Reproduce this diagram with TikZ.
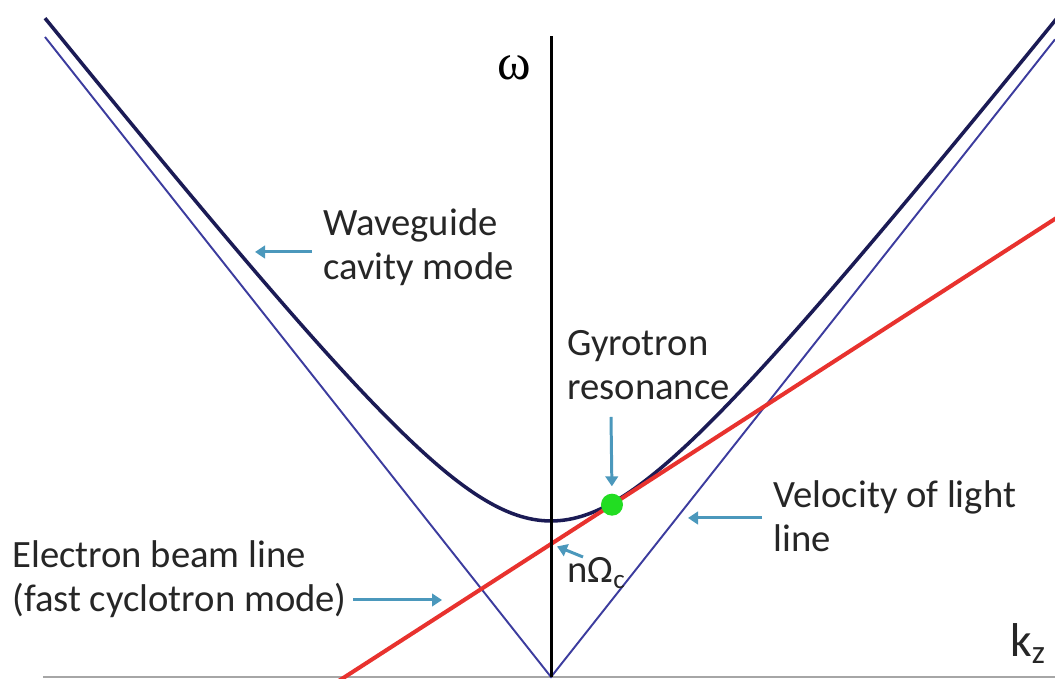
\documentclass[tikz,border=0pt]{standalone}
\usepackage{fontspec}
\setmainfont{Carlito}
\newfontfamily\greekserif{Liberation Serif}
\usetikzlibrary{positioning,arrows.meta}
\definecolor{modeblue}{HTML}{1B1B55}
\definecolor{lightblue}{HTML}{3C3C9E}
\definecolor{beamred}{HTML}{E8322E}
\definecolor{pointblue}{HTML}{4B98BC}
\definecolor{resgreen}{HTML}{22DD22}

\begin{document}
\begin{tikzpicture}[
    x=2cm, y=2cm,
    axis/.style={line width=1.7pt, black},
    kaxis/.style={line width=0.8pt, gray!70},
    light/.style={line width=1.1pt, lightblue},
    mode/.style={line width=2pt, modeblue},
    beam/.style={line width=2.3pt, beamred},
    pointer/.style={line width=1.7pt, pointblue, -{Triangle[length=2mm, width=2.5mm]}},
    lbl/.style={font=\fontsize{22}{25.5}\selectfont, text=black!85, align=left, inner sep=0pt, anchor=base west},
]
\useasboundingbox (0,0) rectangle (10.55,6.79);
\clip (0,0) rectangle (10.55,6.79);
% curves, origin at the foot of the omega axis
\begin{scope}[shift={(5.51,0.02)}]
\coordinate (origin) at (0,0);
\draw[kaxis] (-5.08,0) -- (5.1,0);
\draw[light] (-5.06,6.40) -- (origin) -- (5.04,6.376);
\draw[mode] plot[domain=-5.06:5.06, samples=120, smooth] (\x,{sqrt(1.56^2+(1.265*\x)^2)});
\draw[beam] (-2.2,1.33-2.2*0.645) -- (5.1,1.33+5.1*0.645);
\draw[axis] (origin) -- (0,6.41);
\coordinate (cross) at (0,1.33);
\node[circle, fill=resgreen, inner sep=0pt, minimum size=4.4mm] (res) at (0.61,1.723) {};
\end{scope}
% labels (base = last line)
\node[font=\greekserif\fontsize{29}{30}\selectfont, inner sep=0pt, anchor=base] (omega) at (5.145,5.99) {ω};
\node[lbl, font=\fontsize{27}{30}\selectfont] (kz) at (10.10,0.22) {k\textsubscript{z}};
\node[lbl] (wgtext) at (3.23,3.99) {Waveguide\\cavity mode};
\node[lbl] (gyrotext) at (5.67,2.79) {Gyrotron\\resonance};
\node[lbl] (veltext) at (7.73,1.27) {Velocity of light\\line};
\node[lbl] (ebtext) at (0.12,0.67) {Electron beam line\\(fast cyclotron mode)};
\node[lbl] (nomega) at (5.67,0.96) {nΩ\textsubscript{c}};
% pointers
\coordinate (wgtail) at (3.12,4.27);
\coordinate (wgtip) at (2.55,4.27);
\coordinate (gyrotail) at (6.11,2.62);
\coordinate (veltail) at (7.62,1.61);
\coordinate (veltip) at (6.88,1.61);
\coordinate (ebtail) at (3.53,0.79);
\coordinate (ebtip) at (4.42,0.79);
\coordinate (ntail) at (5.83,1.22);
\draw[pointer] (wgtail) -- (wgtip);
\draw[pointer, shorten >=1.4mm] (gyrotail) -- (res.north);
\draw[pointer] (veltail) -- (veltip);
\draw[pointer] (ebtail) -- (ebtip);
\draw[pointer, shorten >=1.3mm] (ntail) -- (cross);
\end{tikzpicture}
\end{document}
